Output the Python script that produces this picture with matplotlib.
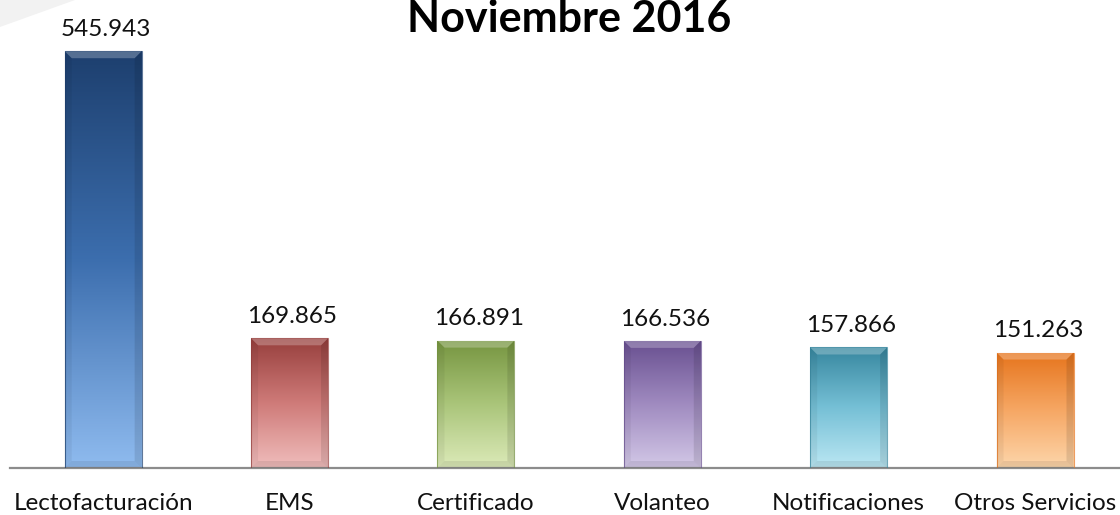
#!/usr/bin/env python3
"""Noviembre 2016 - volumen por servicio, barras con degradado."""

import matplotlib
matplotlib.use("Agg")

import matplotlib.pyplot as plt
import numpy as np
from matplotlib.colors import LinearSegmentedColormap
from matplotlib.patches import Polygon

plt.rcParams["font.family"] = ["Lato", "DejaVu Sans"]

# ── Data ───────────────────────────────────────────────────────────────
title = "Noviembre 2016"
categories = ["Lectofacturación", "EMS", "Certificado", "Volanteo",
              "Notificaciones", "Otros Servicios"]
values = [545.943, 169.865, 166.891, 166.536, 157.866, 151.263]
value_labels = ["545.943", "169.865", "166.891", "166.536", "157.866", "151.263"]

# top / middle / bottom colour of each bar's gradient
top_colors = ["#1d3f6e", "#973f3d", "#769540", "#684f90", "#37879f", "#e6741c"]
mid_colors = ["#3c6eae", "#cf7b79", "#aac57a", "#a08bc0", "#76c0d6", "#f6a764"]
bottom_colors = ["#8fbbef", "#f0bdbc", "#dceab9", "#d3c8e7", "#bbe7f3", "#fdd6ab"]

XLIM = (-0.5, 5.456)
YLIM = (0, 613)
AX_PX = (1110, 468)  # axes size in pixels


def gradient_bar(ax, bar, top, mid, bottom):
    cmap = LinearSegmentedColormap.from_list("g", [bottom, mid, top])
    x0, y0 = bar.get_x(), bar.get_y()
    w, h = bar.get_width(), bar.get_height()
    grad = np.linspace(0, 1, 256).reshape(-1, 1)
    im = ax.imshow(grad, cmap=cmap, origin="lower", aspect="auto",
                   extent=[x0, x0 + w, y0, y0 + h], zorder=2)
    im.set_clip_path(bar)
    bar.set_facecolor("none")
    bar.set_edgecolor(top)
    bar.set_linewidth(0.8)
    bar.set_alpha(0.7)

    # small bevel: light band on top, darker sides
    dx = 7 * (XLIM[1] - XLIM[0]) / AX_PX[0]
    dy = 7 * (YLIM[1] - YLIM[0]) / AX_PX[1]
    x1, y1 = x0 + w, y0 + h
    ax.add_patch(Polygon([[x0, y1], [x1, y1], [x1 - dx, y1 - dy], [x0 + dx, y1 - dy]],
                         facecolor="white", alpha=0.25, edgecolor="none", zorder=4))
    ax.add_patch(Polygon([[x0, y1], [x0 + dx, y1 - dy], [x0 + dx, y0 + dy], [x0, y0]],
                         facecolor="black", alpha=0.05, edgecolor="none", zorder=4))
    ax.add_patch(Polygon([[x1, y1], [x1 - dx, y1 - dy], [x1 - dx, y0 + dy], [x1, y0]],
                         facecolor="black", alpha=0.10, edgecolor="none", zorder=4))
    ax.add_patch(Polygon([[x0, y0], [x0 + dx, y0 + dy], [x1 - dx, y0 + dy], [x1, y0]],
                         facecolor="black", alpha=0.08, edgecolor="none", zorder=4))


def main():
    fig = plt.figure(figsize=(11.2, 5.15), dpi=100)

    # faint decoration in the top-left corner
    fig.patches.append(Polygon([[0, 1], [75 / 1120, 1], [0, 1 - 27 / 515]],
                               closed=True, transform=fig.transFigure,
                               facecolor="#f2f2f2", edgecolor="none", zorder=0))

    ax = fig.add_axes([10 / 1120, 47 / 515, AX_PX[0] / 1120, AX_PX[1] / 515])
    ax.set_facecolor("none")
    x = np.arange(len(categories))
    bars = ax.bar(x, values, width=0.413, zorder=3)
    for bar, t, m, b in zip(bars, top_colors, mid_colors, bottom_colors):
        gradient_bar(ax, bar, t, m, b)

    for xi, v, lab in zip(x, values, value_labels):
        ax.annotate(lab, (xi, v), xytext=(2, 8), textcoords="offset points",
                    ha="center", va="bottom", fontsize=17.5, color="#111111")

    ax.set_xlim(*XLIM)
    ax.set_ylim(*YLIM)
    ax.set_xticks(x)
    ax.set_xticklabels(categories, fontsize=17.5, color="#111111")
    ax.tick_params(axis="x", length=0, pad=18)
    ax.set_yticks([])
    for side in ["top", "right", "left"]:
        ax.spines[side].set_visible(False)
    ax.spines["bottom"].set_color("#8c8c8c")
    ax.spines["bottom"].set_linewidth(1.6)

    fig.text(569 / 1120, 1 - 32 / 515, title, ha="center", va="baseline",
             fontsize=31, fontweight="bold", color="black")

    fig.savefig("out.png", dpi=100)


if __name__ == "__main__":
    main()
